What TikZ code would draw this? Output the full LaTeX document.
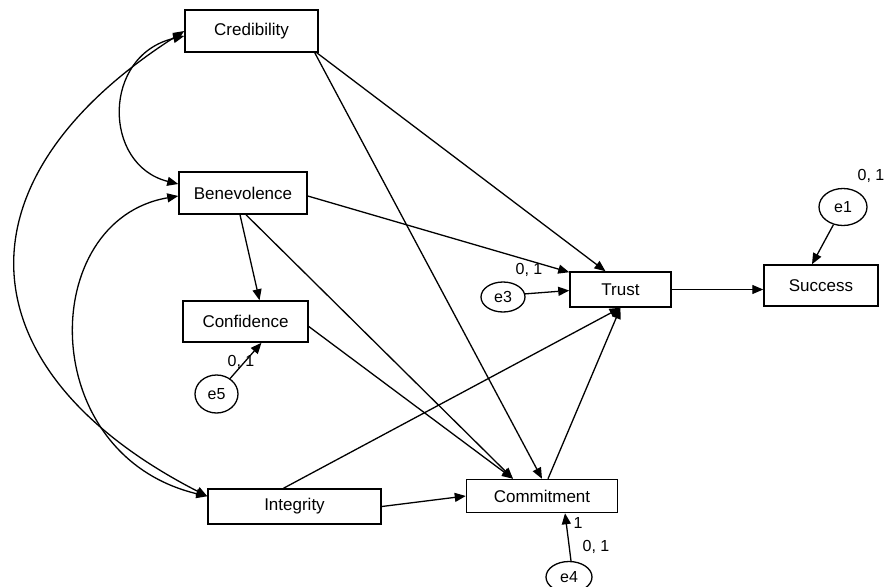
\documentclass[tikz,border=0pt]{standalone}
\usepackage{fontspec}
\setmainfont{Liberation Sans}
\usetikzlibrary{arrows.meta,calc,shapes.geometric}
\begin{document}
\begin{tikzpicture}[x=1pt,y=-1pt,
  box/.style={draw,line width=1.5pt,inner sep=0pt,font=\fontsize{17}{20}\selectfont},
  err/.style={draw,ellipse,line width=1.3pt,inner sep=0pt,font=\fontsize{16}{18}\selectfont},
  lab/.style={font=\fontsize{16}{18}\selectfont,inner sep=0pt},
  arr/.style={line width=1.3pt,-{Triangle[length=11pt,width=9pt]}},
  dbl/.style={line width=1.3pt,{Triangle[length=11pt,width=9pt]}-{Triangle[length=11pt,width=9pt]}}]
\useasboundingbox (0,0) rectangle (888,586);
% boxes
\node[box,minimum width=133pt,minimum height=42pt] (cred) at (251.5,31) {Credibility};
\node[box,minimum width=128pt,minimum height=42pt] (bene) at (243,193) {Benevolence};
\node[box,minimum width=125pt,minimum height=41pt] (conf) at (245.5,321.5) {Confidence};
\node[box,minimum width=173pt,minimum height=35pt] (integ) at (294.5,506.5) {Integrity};
\node[box,minimum width=151pt,minimum height=33pt] (commit) at (542,496) {Commitment};
\node[box,minimum width=101pt,minimum height=35pt] (trust) at (620.5,289.5) {Trust};
\node[box,minimum width=114pt,minimum height=41pt] (succ) at (821,285.5) {Success};
% error terms
\node[err,minimum width=48pt,minimum height=37pt] (e1) at (843,207) {e1};
\node[err,minimum width=44pt,minimum height=30pt] (e3) at (503,297) {e3};
\node[err,minimum width=43pt,minimum height=38pt] (e5) at (216.5,394) {e5};
\node[err,minimum width=46pt,minimum height=31pt] (e4) at (569,577) {e4};
% labels
\node[lab] (l1) at (871,176) {0, 1};
\node[lab] (l3) at (529,270) {0, 1};
\node[lab] (l5) at (241,362) {0, 1};
\node[lab] (l4a) at (578,523) {1};
\node[lab] (l4b) at (596,547) {0, 1};
% paths
\draw[arr] ($(cred.south east)+(-2,0)$) -- ($(trust.north)+(-15,0)$);
\draw[arr] ($(cred.south east)+(-4,0)$) -- (commit.north);
\draw[arr] ($(bene.east)+(0,3)$) -- ($(trust.north west)+(0,1)$);
\draw[arr] ($(bene.south)+(-3,0)$) -- ($(conf.north)+(14,0)$);
\draw[arr] ($(bene.south)+(3,0)$) -- ($(commit.north)+(-29,0)$);
\draw[arr] ($(conf.east)+(0,5)$) -- ($(commit.north)+(-29,0)$);
\draw[arr] ($(integ.north)+(-11,0)$) -- (trust.south);
\draw[arr] (integ.east) -- (commit.west);
\draw[arr] ($(commit.north)+(6,0)$) -- (trust.south);
\draw[arr] (trust.east) -- (succ.west |- trust.east);
\draw[arr] (e1) -- ($(succ.north)+(-9,0)$);
\draw[arr] (e3.8) -- ($(trust.west)+(0,1)$);
\draw[arr] (e5) -- ($(conf.south)+(16,0)$);
\draw[arr] ($(e4.north)+(2,0)$) -- ($(commit.south)+(23,0)$);
% covariances
\draw[dbl] (cred.west) .. controls (-52,182) and (-35,372) .. ($(integ.north west)+(0,8)$);
\draw[dbl] ($(cred.west)+(0,5)$) .. controls (102,55) and (102,165) .. ($(bene.west)+(0,-9)$);
\draw[dbl] ($(bene.west)+(0,3)$) .. controls (37,220) and (35,455) .. ($(integ.north west)+(0,8)$);
\end{tikzpicture}
\end{document}
